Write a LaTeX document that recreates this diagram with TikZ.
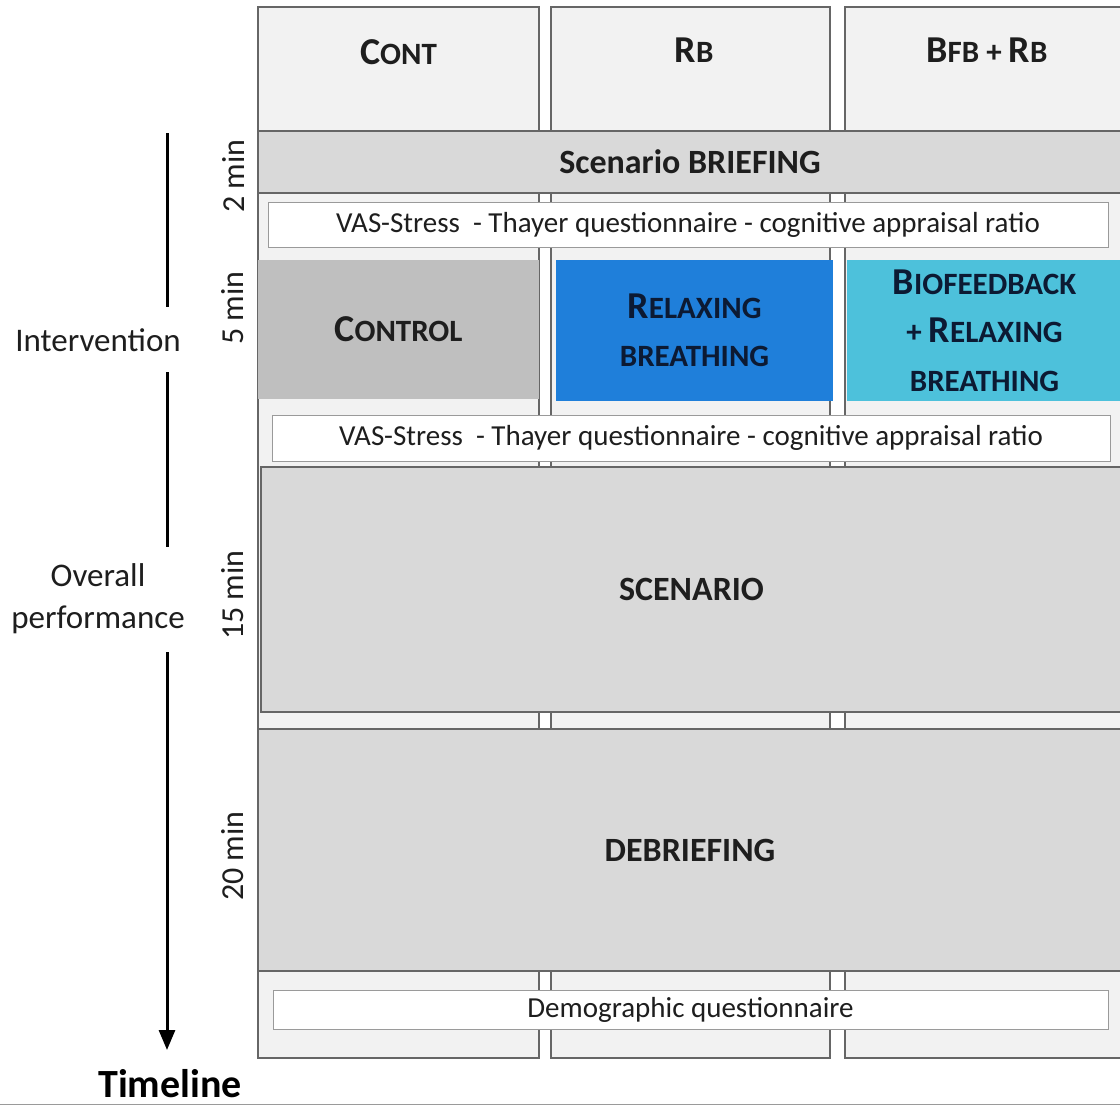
\documentclass[tikz,border=0pt]{standalone}
\usepackage{fontspec}
\setmainfont{Carlito}
\usetikzlibrary{arrows.meta}
\definecolor{colfill}{HTML}{F2F2F2}
\definecolor{colline}{HTML}{666666}
\definecolor{bandfill}{HTML}{D9D9D9}
\definecolor{ctrlfill}{HTML}{BFBFBF}
\definecolor{relaxfill}{HTML}{1F7FDA}
\definecolor{biofill}{HTML}{4DC1DB}
\definecolor{navytext}{HTML}{0C1A33}
\definecolor{txt}{HTML}{1E1E1E}
\definecolor{vasline}{HTML}{9A9A9A}
\newcommand\bigc[1]{{\fontsize{38}{48}\selectfont #1}}
\begin{document}
\begin{tikzpicture}[x=1pt,y=-1pt,
  every node/.style={inner sep=0pt,outer sep=0pt,text=txt},
  column/.style={draw=colline,line width=2pt,fill=colfill},
  band/.style={draw=colline,line width=2.2pt,fill=bandfill,font=\fontsize{34}{40}\selectfont\bfseries},
  vasbox/.style={draw=vasline,line width=1pt,fill=white,font=\fontsize{29}{34}\selectfont},
  armbox/.style={align=center,font=\fontsize{31}{48.5}\selectfont\bfseries},
  header/.style={font=\fontsize{31}{40}\selectfont\bfseries},
  minlabel/.style={rotate=90,font=\fontsize{32}{38}\selectfont},
  sidelabel/.style={align=center,font=\fontsize{33}{42}\selectfont},
  tline/.style={line width=3pt,black}]
\clip (0,0) rectangle (1120,1106);
\fill[white] (0,0) rectangle (1120,1106);
% columns
\node[column,minimum width=281pt,minimum height=1051pt] (c1) at (398.5,532.5) {};
\node[column,minimum width=279pt,minimum height=1051pt] (c2) at (690.5,532.5) {};
\node[column,minimum width=277pt,minimum height=1051pt] (c3) at (983.5,532.5) {};
\node[header] (h1) at (398.5,52) {\bigc{C}ONT};
\node[header] (h2) at (694,50) {\bigc{R}B};
\node[header] (h3) at (987,50) {\bigc{B}FB + \bigc{R}B};
% bands
\node[band,minimum width=864pt,minimum height=62pt] (brief) at (690,162) {Scenario BRIEFING};
\node[vasbox,minimum width=840pt,minimum height=45pt] (vas1) at (688,224.5) {VAS-Stress\ \ - Thayer questionnaire - cognitive appraisal ratio};
\node[fill=ctrlfill,minimum width=281pt,minimum height=139pt] (ctrl) at (398.5,329) {};
\node[armbox] at (ctrl) {\bigc{C}ONTROL};
\node[fill=relaxfill,minimum width=277pt,minimum height=141pt] (relax) at (694.5,330.5) {};
\node[armbox,text=navytext] at (relax) {\bigc{R}ELAXING\\BREATHING};
\node[fill=biofill,minimum width=275pt,minimum height=141pt] (bio) at (984.5,330.5) {};
\node[armbox,text=navytext] at (bio) {\bigc{B}IOFEEDBACK\\+ \bigc{R}ELAXING\\BREATHING};
\node[vasbox,minimum width=838pt,minimum height=46pt] (vas2) at (691,438) {VAS-Stress\ \ - Thayer questionnaire - cognitive appraisal ratio};
\node[band,minimum width=861pt,minimum height=245pt] (scen) at (691.5,589.5) {SCENARIO};
\node[band,minimum width=864pt,minimum height=242pt] (debrief) at (690,850) {DEBRIEFING};
\node[vasbox,minimum width=835pt,minimum height=39pt] (demo) at (690.5,1009.5) {Demographic questionnaire};
% duration labels
\node[minlabel] (m2) at (233,176) {2 min};
\node[minlabel] (m5) at (233,308) {5 min};
\node[minlabel] (m15) at (233,595) {15 min};
\node[minlabel] (m20) at (233,856) {20 min};
% timeline
\node[sidelabel] (interv) at (98,340) {Intervention};
\node[sidelabel] (overall) at (98,599) {Overall\\performance};
\node[font=\fontsize{40}{46}\selectfont\bfseries,text=black] (timeline) at (170,1084) {Timeline};
\coordinate (ttop) at (167,133);
\coordinate (tend) at (167,1050);
\draw[tline] (ttop) -- (ttop |- 0,307);
\draw[tline] (ttop |- 0,372) -- (ttop |- 0,547);
\draw[tline,-{Triangle[width=16pt,length=20pt]}] (ttop |- 0,652) -- (tend);
\draw[vasline,line width=1.5pt] (0,1104.5) -- (1120,1104.5);
\end{tikzpicture}
\end{document}
